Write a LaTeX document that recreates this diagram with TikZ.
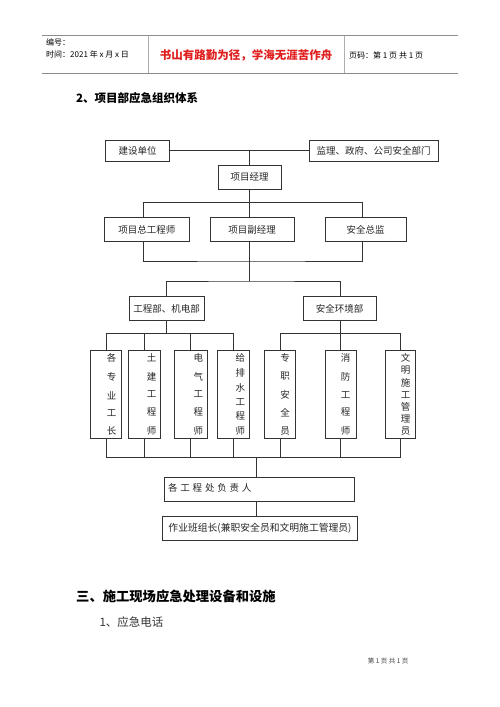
\documentclass[tikz,border=0pt]{standalone}
\usepackage{fontspec}
\setmainfont{Noto Sans CJK SC}
\definecolor{ln}{gray}{0.2}
\definecolor{hdr}{gray}{0.55}
\definecolor{redtxt}{RGB}{225,30,30}
\newcommand{\vsep}{\par\vfill}
\newcommand{\vcol}[1]{\parbox[c][81pt][s]{11pt}{\centering\offinterlineskip #1}}
\begin{document}
\begin{tikzpicture}[x=1pt,y=-1pt,
  box/.style={draw=ln, line width=0.7pt, inner sep=0pt, font=\fontsize{9.5}{11}\selectfont, text=black!85},
  vbox/.style={box, minimum height=87.6pt},
  txt/.style={inner sep=0pt, font=\fontsize{9.5}{11}\selectfont, text=black!85},
  conn/.style={draw=ln, line width=0.7pt}]
\useasboundingbox (0,0) rectangle (500,707);
\fill[white] (0,0) rectangle (500,707);
% header
\draw[hdr, line width=1pt] (42,35.7) -- (458,35.7);
\draw[hdr, line width=1pt] (42,73) -- (458,73);
\draw[hdr!70, line width=0.8pt] (148,35.7) -- (148,73);
\draw[hdr!70, line width=0.8pt] (344,35.7) -- (344,73);
\node[anchor=west, inner sep=0pt, font=\fontsize{8}{9}\selectfont] (hno) at (46,42.5) {编号：};
\node[anchor=west, inner sep=0pt, font=\fontsize{8}{9}\selectfont] (htime) at (46,54.5) {时间：2021 年 x 月 x 日};
\node[inner sep=0pt, font=\fontsize{11.5}{13}\selectfont\bfseries, text=redtxt] (hmotto) at (246,55.5) {书山有路勤为径，学海无涯苦作舟};
\node[anchor=west, inner sep=0pt, font=\fontsize{8}{9}\selectfont] (hpage) at (349,55.5) {页码：第 1 页 共 1 页};
% heading
\node[anchor=west, inner sep=0pt, font=\fontsize{11.5}{13}\selectfont\bfseries] (h2) at (76,98) {2、项目部应急组织体系};
% level 0
\node[box, minimum width=63.6pt, minimum height=21pt] (jsdw) at (137.5,150.5) {建设单位};
\node[box, minimum width=129pt, minimum height=21pt] (jl) at (373.5,150.5) {监理、政府、公司安全部门};
\node[box, minimum width=63pt, minimum height=24.3pt] (xmjl) at (249.5,177.2) {项目经理};
% level 2
\node[box, minimum width=85pt, minimum height=24pt] (zgcs) at (146.8,229.7) {项目总工程师};
\node[box, minimum width=84.3pt, minimum height=24pt] (fjl) at (252.2,229.7) {项目副经理};
\node[box, minimum width=81pt, minimum height=24pt] (aqzj) at (365.5,229.7) {安全总监};
% level 3
\node[box, minimum width=75.3pt, minimum height=24pt] (gcb) at (166.7,308.7) {工程部、机电部};
\node[box, minimum width=73.3pt, minimum height=24pt] (aqhj) at (339.6,308.7) {安全环境部};
% level 4
\node[vbox, minimum width=30.6pt] (v1) at (106,394.5) {};
\node[vbox, minimum width=32pt] (v2) at (144.3,394.5) {};
\node[vbox, minimum width=33.3pt] (v3) at (190.7,394.5) {};
\node[vbox, minimum width=31.6pt] (v4) at (233.5,394.5) {};
\node[vbox, minimum width=30.3pt] (v5) at (279.9,394.5) {};
\node[vbox, minimum width=31pt] (v6) at (340.5,394.5) {};
\node[vbox, minimum width=30pt] (v7) at (400.7,394.5) {};
\node[txt] (t1) at (111.7,394.5) {\vcol{各\vsep 专\vsep 业\vsep 工\vsep 长}};
\node[txt] (t2) at (151.7,394.5) {\vcol{土\vsep 建\vsep 工\vsep 程\vsep 师}};
\node[txt] (t3) at (198.3,394.5) {\vcol{电\vsep 气\vsep 工\vsep 程\vsep 师}};
\node[txt] (t4) at (240.3,394.5) {\vcol{给\vsep 排\vsep 水\vsep 工\vsep 程\vsep 师}};
\node[txt] (t5) at (285,394.5) {\vcol{专\vsep 职\vsep 安\vsep 全\vsep 员}};
\node[txt] (t6) at (345.7,394.5) {\vcol{消\vsep 防\vsep 工\vsep 程\vsep 师}};
\node[txt] (t7) at (405.7,394.5) {\vcol{文\vsep 明\vsep 施\vsep 工\vsep 管\vsep 理\vsep 员}};
% level 5
\node[box, minimum width=190pt, minimum height=24.4pt] (fzr) at (259,489.5) {};
\node[txt, anchor=west] (fzrt) at ([xshift=4.3pt,yshift=1.8pt]fzr.west) {各\hspace{2.8pt}工\hspace{2.8pt}程\hspace{2.8pt}处\hspace{2.8pt}负\hspace{2.8pt}责\hspace{2.8pt}人};
\node[box, minimum width=194.6pt, minimum height=24pt, font=\fontsize{9.8}{11}\selectfont] (bzz) at (260,528.7) {作业班组长(兼职安全员和文明施工管理员)};
% junction coordinates
\coordinate (b2t) at (249.5,202.3);
\coordinate (b2b) at (249.5,261);
\coordinate (b3) at (249.5,281);
\coordinate (b4) at (250,333.3);
\coordinate (j5) at (256.7,457.3);
% connectors
\draw[conn] (jsdw.east) -- (jl.west);
\draw[conn] (xmjl.north) -- (xmjl.north |- jsdw.east);
\draw[conn] (xmjl.south) -- (xmjl.south |- fjl.north);
\draw[conn] ([xshift=-3.5pt]zgcs.north) |- (b2t) -| ([xshift=-2.8pt]aqzj.north);
\draw[conn] ([xshift=-3.5pt]zgcs.south) |- (b2b) -| ([xshift=-2.8pt]aqzj.south);
\draw[conn] (fjl.south -| xmjl.south) -- (b3);
\draw[conn] (gcb.north) |- (b3) -| ([xshift=0.4pt]aqhj.north);
\draw[conn] (gcb.south) -- (gcb.south |- b4);
\draw[conn] ([xshift=0.4pt]aqhj.south) -- ([xshift=0.4pt]aqhj.south |- b4);
\draw[conn] (v1.north) |- (v4.north |- b4) -- (v4.north);
\draw[conn] (v2.north) -- (v2.north |- b4);
\draw[conn] (v3.north) -- (v3.north |- b4);
\draw[conn] (v5.north) |- (v7.north |- b4) -- (v7.north);
\draw[conn] (v6.north) -- (v6.north |- b4);
\draw[conn] (v1.south) |- (j5) -| (v7.south);
\foreach \n in {v2,v3,v4,v5,v6} \draw[conn] (\n.south) -- (\n.south |- j5);
\draw[conn] (j5) -- (j5 |- fzr.north);
\draw[conn] (fzr.south -| j5) -- (bzz.north -| j5);
% section 3
\node[anchor=west, inner sep=0pt, font=\fontsize{13.3}{15}\selectfont\bfseries] (h3) at (76,596) {三、施工现场应急处理设备和设施};
\node[anchor=west, inner sep=0pt, font=\fontsize{11.5}{13}\selectfont, text=black!80] (h31) at (99.3,622.3) {1、应急电话};
\node[anchor=west, inner sep=0pt, font=\fontsize{6.5}{8}\selectfont, text=black!75] (foot) at (367.7,660.7) {第 1 页 共 1 页};
\end{tikzpicture}
\end{document}
